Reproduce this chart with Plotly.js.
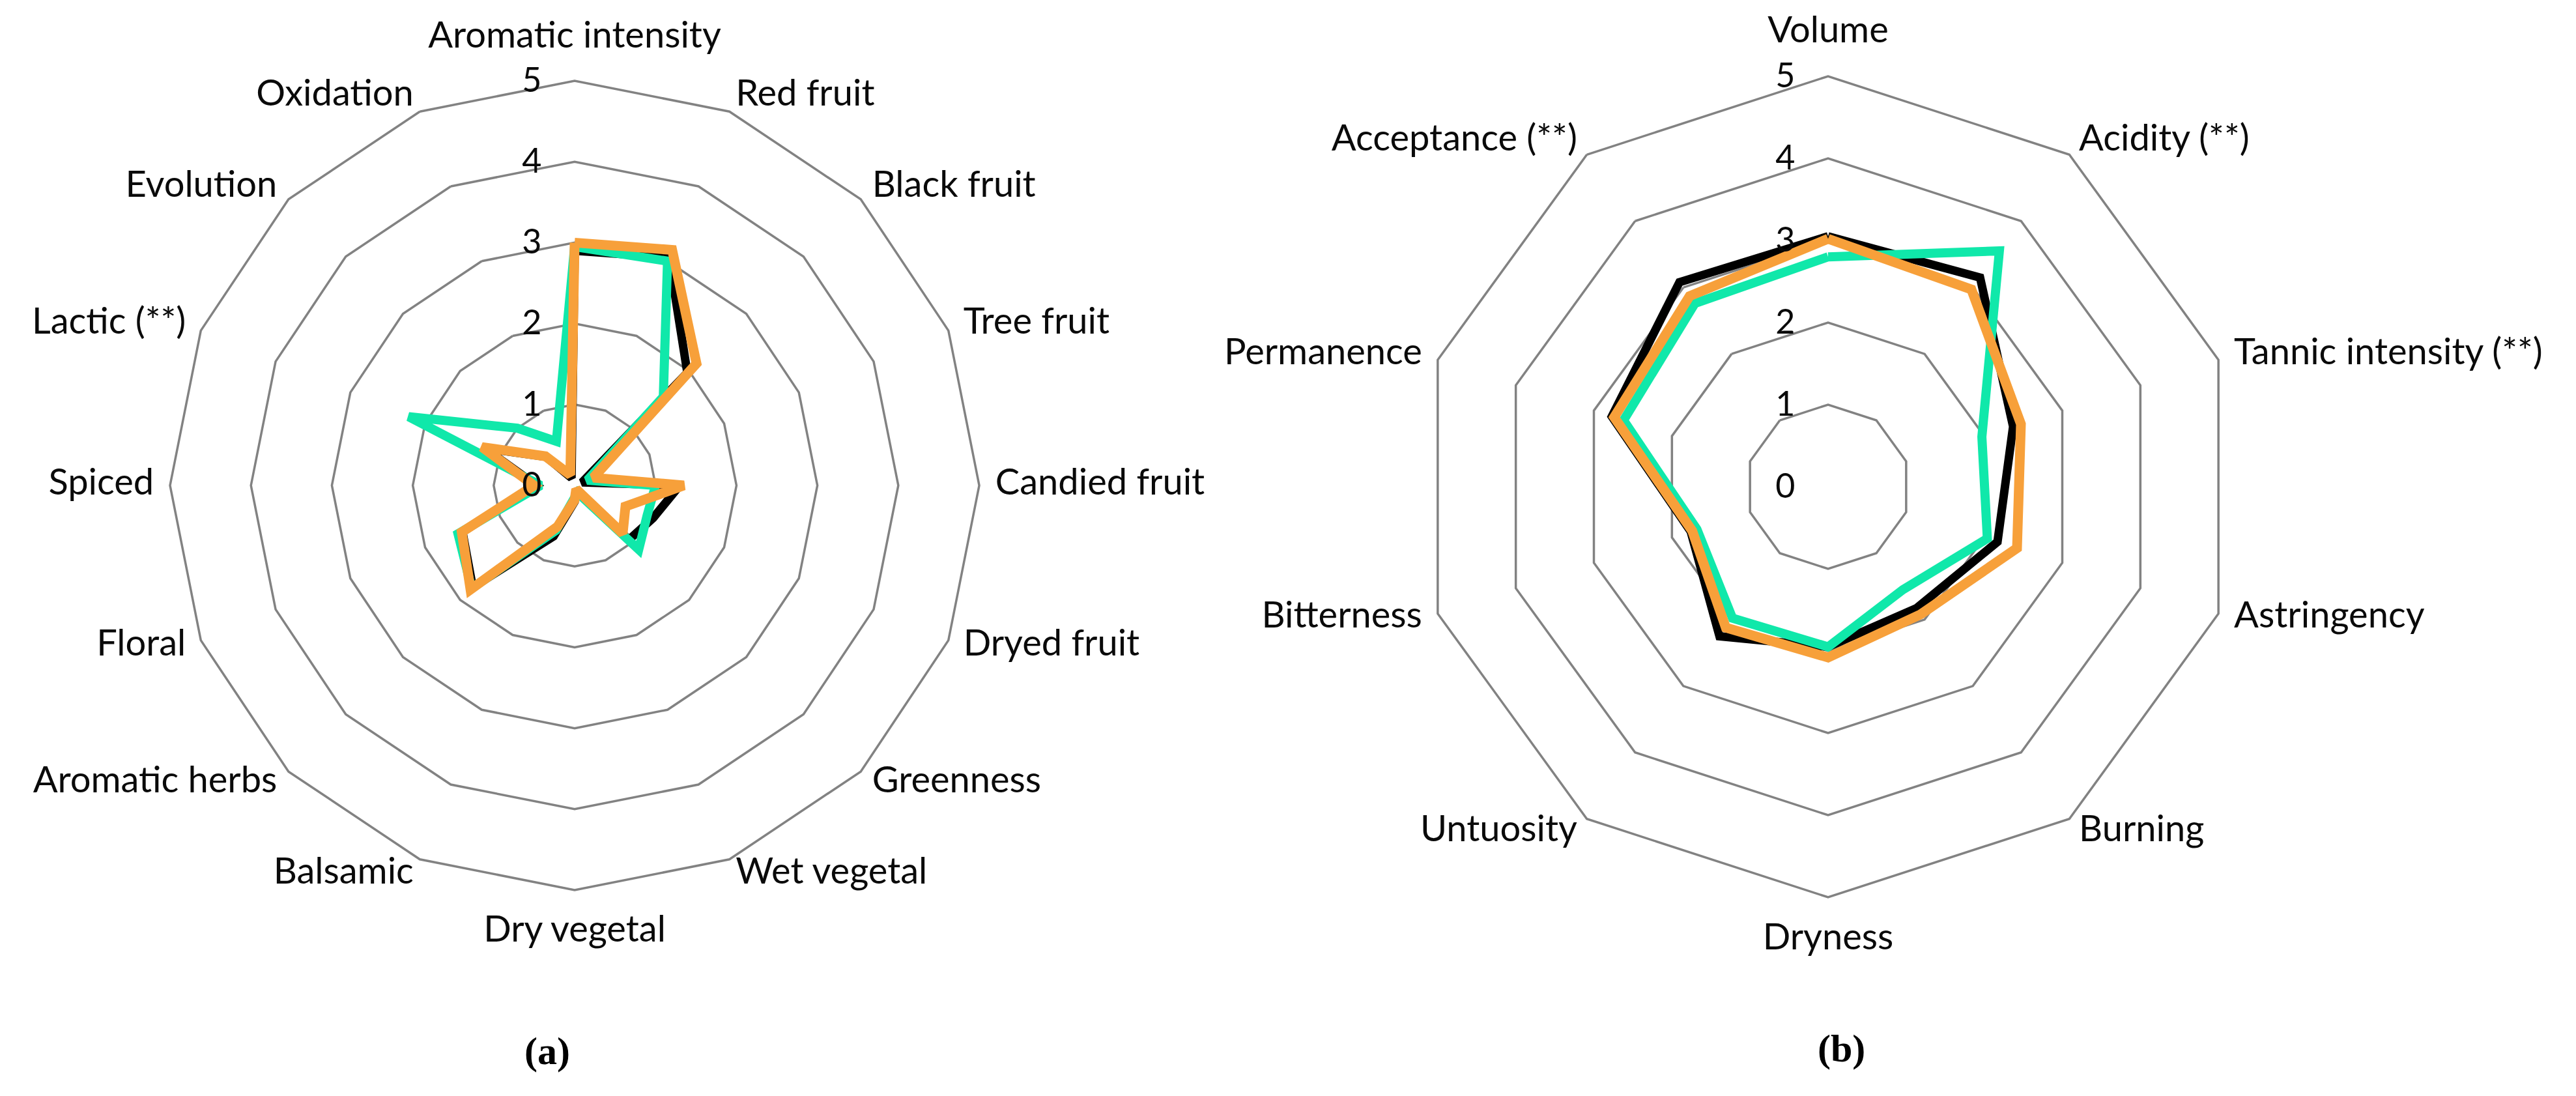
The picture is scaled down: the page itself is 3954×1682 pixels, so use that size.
<!DOCTYPE html>
<html>
<head>
<meta charset="utf-8">
<script src="https://cdn.plot.ly/plotly-3.0.1.min.js"></script>
<style>
html, body { margin: 0; padding: 0; background: #ffffff; }
#chart { width: 3954px; height: 1682px; }
</style>
</head>
<body>
<div id="chart"></div>
<script>
// ---------- Data: (a) aroma attributes ----------
const aromaCategories = [
  "Aromatic intensity", "Red fruit", "Black fruit", "Tree fruit", "Candied fruit",
  "Dryed fruit", "Greenness", "Wet vegetal", "Dry vegetal", "Balsamic",
  "Aromatic herbs", "Floral", "Spiced", "Lactic (**)", "Evolution", "Oxidation"
];
const aromaBlack  = [2.90, 3.05, 1.97, 0.10, 1.30, 1.05, 0.95, 0.05, 0.20, 0.68, 1.78, 1.50, 0.47, 1.20, 0.50, 0.10];
const aromaGreen  = [2.95, 3.00, 1.55, 0.17, 1.00, 0.97, 1.12, 0.10, 0.15, 0.60, 1.80, 1.56, 0.42, 2.22, 1.00, 0.59];
const aromaOrange = [3.00, 3.15, 2.13, 0.25, 1.35, 0.68, 0.84, 0.05, 0.18, 0.55, 1.82, 1.51, 0.50, 1.24, 0.51, 0.14];

// ---------- Data: (b) mouth attributes ----------
const mouthCategories = [
  "Volume", "Acidity (**)", "Tannic intensity (**)", "Astringency", "Burning",
  "Dryness", "Untuosity", "Bitterness", "Permanence", "Acceptance (**)"
];
const mouthBlack  = [3.05, 3.15, 2.37, 2.17, 1.83, 1.95, 2.25, 1.76, 2.77, 3.08];
const mouthGreen  = [2.80, 3.55, 1.97, 2.04, 1.55, 1.95, 1.98, 1.68, 2.62, 2.76];
const mouthOrange = [3.02, 2.97, 2.47, 2.42, 1.92, 2.08, 2.12, 1.74, 2.74, 2.87];

// ---------- Axis ticks ----------
const radialTicks = [0, 1, 2, 3, 4, 5];
const panelLabels = ["(a)", "(b)"];

// ---------- Styles ----------
const colBlack = "#000000";
const colGreen = "#10E8AA";
const colOrange = "#F7A03A";
const gridColor = "#828282";
const labelFont = { family: "Lato, 'Noto Sans', sans-serif", size: 56, color: "#0a0a0a" };
const tickFont = { family: "Lato, 'Noto Sans', sans-serif", size: 52, color: "#0a0a0a" };
const radialMax = 5.4;          // axis range reaches a little past the outer ring so names fit inside
const labelRadius = 5.2;        // where category names sit, just outside the outer ring
const labelRadiusAxial = 5.3;   // for names straight above / below the centre

function closeLoop(a) { return a.concat([a[0]]); }

function series(r, cats, color, width, subplot, name) {
  return {
    type: "scatterpolar",
    mode: "lines",
    r: closeLoop(r),
    theta: closeLoop(cats),
    subplot: subplot,
    name: name,
    line: { color: color, width: width, shape: "linear" },
    hoverinfo: "skip",
    showlegend: false
  };
}

// category names placed through the polar axes themselves (text trace)
function categoryLabels(cats, subplot) {
  const n = cats.length;
  const angles = cats.map((c, i) => i * 360 / n);
  const pos = angles.map(a => {
    if (a < 1e-6) return "top center";
    if (Math.abs(a - 180) < 1e-6) return "bottom center";
    return a < 180 ? "middle right" : "middle left";
  });
  const rr = angles.map(a => (a < 1e-6 || Math.abs(a - 180) < 1e-6) ? labelRadiusAxial : labelRadius);
  return {
    type: "scatterpolar",
    mode: "text",
    r: rr,
    theta: cats,
    text: cats,
    textposition: pos,
    textfont: labelFont,
    subplot: subplot,
    cliponaxis: false,
    hoverinfo: "skip",
    showlegend: false
  };
}

const data = [
  series(aromaBlack, aromaCategories, colBlack, 13, "polar", "black"),
  series(aromaGreen, aromaCategories, colGreen, 14, "polar", "green"),
  series(aromaOrange, aromaCategories, colOrange, 15, "polar", "orange"),
  categoryLabels(aromaCategories, "polar"),
  series(mouthBlack, mouthCategories, colBlack, 13, "polar2", "black"),
  series(mouthGreen, mouthCategories, colGreen, 14, "polar2", "green"),
  series(mouthOrange, mouthCategories, colOrange, 15, "polar2", "orange"),
  categoryLabels(mouthCategories, "polar2")
];

function polarLayout(dx, dy, cats) {
  return {
    domain: { x: dx, y: dy },
    gridshape: "linear",
    bgcolor: "rgba(0,0,0,0)",
    hole: 0,
    radialaxis: {
      range: [0, radialMax],
      tickvals: radialTicks,
      ticktext: radialTicks.map(String),
      showline: false,
      showgrid: true,
      gridcolor: gridColor,
      gridwidth: 3.5,
      angle: 90,
      side: "counterclockwise",
      ticks: "outside",
      ticklen: 32,
      tickcolor: "rgba(0,0,0,0)",
      tickangle: 90,
      tickfont: tickFont,
      layer: "above traces"
    },
    angularaxis: {
      type: "category",
      categoryarray: cats,
      direction: "clockwise",
      rotation: 90,
      showgrid: false,
      showline: false,
      ticks: "",
      showticklabels: false,
      layer: "below traces"
    }
  };
}

const layout = {
  width: 3954,
  height: 1682,
  margin: { l: 0, r: 0, t: 0, b: 0 },
  paper_bgcolor: "#ffffff",
  plot_bgcolor: "#ffffff",
  showlegend: false,
  polar: polarLayout([0.05344, 0.39270], [0.15833, 0.95583], aromaCategories),
  polar2: polarLayout([0.53758, 0.88174], [0.15137, 0.96041], mouthCategories),
  annotations: [
    { text: "<b>" + panelLabels[0] + "</b>", x: 840 / 3954, y: 1 - 1613 / 1682, xref: "paper", yref: "paper",
      showarrow: false, xanchor: "center", yanchor: "middle",
      font: { family: "'Liberation Serif', 'DejaVu Serif', serif", size: 60, color: "#000" } },
    { text: "<b>" + panelLabels[1] + "</b>", x: 2826 / 3954, y: 1 - 1609 / 1682, xref: "paper", yref: "paper",
      showarrow: false, xanchor: "center", yanchor: "middle",
      font: { family: "'Liberation Serif', 'DejaVu Serif', serif", size: 60, color: "#000" } }
  ]
};

Plotly.newPlot("chart", data, layout, { staticPlot: true, displayModeBar: false });
</script>
</body>
</html>
